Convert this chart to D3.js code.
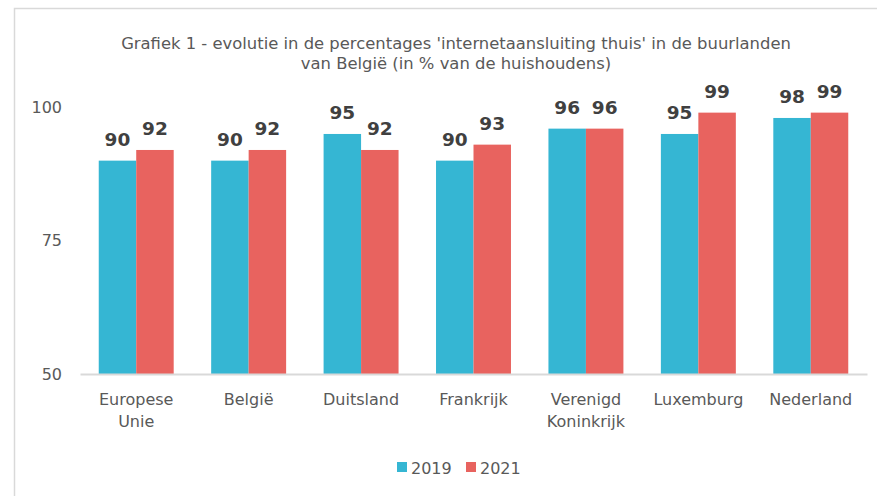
<!DOCTYPE html>
<html><head><meta charset="utf-8">
<script src="https://cdn.jsdelivr.net/npm/d3@7"></script>
<style>
html,body{margin:0;padding:0;background:#fff;}
svg{display:block;}
text{font-family:"DejaVu Sans",sans-serif;}
</style></head>
<body>
<svg id="c" width="877" height="496"></svg>
<script>
const categories = [["Europese","Unie"],["België"],["Duitsland"],["Frankrijk"],["Verenigd","Koninkrijk"],["Luxemburg"],["Nederland"]];
const series = ["2019","2021"];
const values2019 = [90,90,95,90,96,95,98];
const values2021 = [92,92,92,93,96,99,99];
const yTicks = [50,75,100];
const titleLines = ["Grafiek 1 - evolutie in de percentages 'internetaansluiting thuis' in de buurlanden","van België (in % van de huishoudens)"];
const colors = ["#35B6D3","#E8635F"];

(function(){
const svg = d3.select("#c");
svg.append("rect").attr("x",14.5).attr("y",8.5).attr("width",900).attr("height",520)
  .attr("fill","none").attr("stroke","#d9d9d9").attr("stroke-width",1.5);

const pLeft=80, pRight=867, pTop=107.3, pBottom=374;
const x = d3.scaleBand().domain(d3.range(categories.length)).range([pLeft,pRight]).paddingInner(0.3333).paddingOuter(0.1667);
const xs = d3.scaleBand().domain(series).range([0,x.bandwidth()]);
const y = d3.scaleLinear().domain([50,100]).range([pBottom,pTop]);

svg.append("g").selectAll("text").data(titleLines).join("text")
  .attr("x",456).attr("y",(d,i)=>49+i*20).attr("text-anchor","middle")
  .attr("font-size",16.4).attr("fill","#595959").text(d=>d);

const yAxis = d3.axisLeft(y).tickValues(yTicks).tickSize(0).tickPadding(0).tickFormat(d3.format("d"));
const ga = svg.append("g").attr("transform",`translate(${62},0)`).call(yAxis);
ga.select(".domain").remove();
ga.attr("font-family",null).attr("font-size",null);
ga.selectAll("text").attr("font-size",16).attr("fill","#595959");

const data = categories.map((c,i)=>({i, vals:[values2019[i],values2021[i]]}));
const groups = svg.append("g").selectAll("g").data(data).join("g")
  .attr("transform",d=>`translate(${x(d.i)},0)`);
groups.selectAll("rect").data(d=>d.vals.map((v,k)=>({k,v}))).join("rect")
  .attr("x",d=>xs(series[d.k])).attr("width",xs.bandwidth())
  .attr("y",d=>y(d.v)).attr("height",d=>pBottom-y(d.v))
  .attr("fill",d=>colors[d.k]);
groups.selectAll("text.lbl").data(d=>d.vals.map((v,k)=>({k,v}))).join("text").attr("class","lbl")
  .attr("x",d=>xs(series[d.k])+xs.bandwidth()/2).attr("y",d=>y(d.v)-15)
  .attr("text-anchor","middle").attr("font-size",18.5).attr("font-weight","bold").attr("fill","#404040")
  .text(d=>d.v);

const xAxis = d3.axisBottom(x).tickSize(0).tickFormat("");
const gx = svg.append("g").attr("transform",`translate(0,${pBottom})`).call(xAxis);
gx.attr("font-family",null).attr("font-size",null);
gx.select(".domain").attr("stroke","#d9d9d9").attr("stroke-width",2);
gx.selectAll(".tick").each(function(d){
  const t = d3.select(this).append("text").attr("fill","#595959").attr("font-size",16).attr("text-anchor","middle");
  categories[d].forEach((line,j)=>t.append("tspan").attr("x",0).attr("y",31+j*22).text(line));
});

const lg = svg.append("g").attr("transform","translate(397,462)");
const items = lg.selectAll("g").data(series).join("g").attr("transform",(d,i)=>`translate(${i*69},0)`);
items.append("rect").attr("width",10).attr("height",10).attr("fill",(d,i)=>colors[i]);
items.append("text").attr("x",14).attr("y",11.5).attr("font-size",16).attr("fill","#595959").text(d=>d);
})();
</script>
</body></html>
